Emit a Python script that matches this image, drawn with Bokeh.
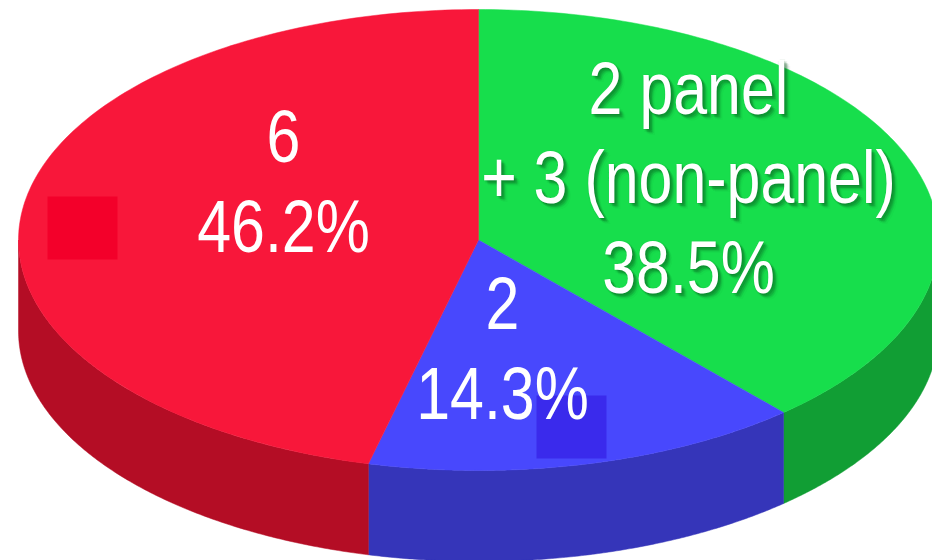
import numpy as np
from bokeh.embed import file_html
from bokeh.io import curdoc
from bokeh.models import ColumnDataSource, CustomJS
from bokeh.plotting import figure
from bokeh.resources import INLINE
from bokeh.core.properties import value

# Members per group, clockwise from twelve o'clock
groups = ["green", "blue", "red"]
counts = [5, 2, 6]
count_labels = [["2 panel", "+ 3 (non-panel)"], ["2"], ["6"]]
share_labels = ["38.5%", "14.3%", "46.2%"]

top_colors = ["#17de4c", "#4848fd", "#f8173a"]
wall_colors = ["#119e34", "#3535b9", "#b40d25"]

# Pie geometry in page pixels
CX, CY, RX, RY, DEPTH = 478, 239.5, 460, 230.5, 91
LINE_HEIGHT = 89.5
FONT = value("Liberation Sans")
SIZE = "75px"
TEXT_SQUEEZE = 0.812

p = figure(width=932, height=560, x_range=(0, 932), y_range=(560, 0),
           output_backend="svg", toolbar_location=None, min_border=0,
           outline_line_color=None, background_fill_color="white")
p.axis.visible = False
p.grid.visible = False


def rim(a0, a1, n=160):
    """Rim points of the top ellipse between two clockwise angles from the top."""
    t = np.linspace(a0, a1, n)
    return CX + RX * np.sin(t), CY - RY * np.cos(t)


edges = 2 * np.pi * np.concatenate([[0], np.cumsum(counts)]) / sum(counts)

# Side walls: only the part of the rim on the front half of the ellipse shows
for a0, a1, col in zip(edges[:-1], edges[1:], wall_colors):
    lo, hi = max(a0, np.pi / 2), min(a1, 3 * np.pi / 2)
    if lo < hi:
        x, y = rim(lo, hi)
        p.patch(np.r_[x, x[::-1]], np.r_[y, y[::-1] + DEPTH],
                fill_color=col, fill_alpha=1.0, line_color=col, line_width=0.5)

# Top face
for a0, a1, col in zip(edges[:-1], edges[1:], top_colors):
    x, y = rim(a0, a1)
    p.patch(np.r_[CX, x], np.r_[CY, y], fill_color=col, fill_alpha=1.0,
            line_color=col, line_width=0.5)

# Small darker patches on the red and blue faces
p.quad(left=[47, 536], right=[117, 606], top=[196, 395], bottom=[259, 458],
       fill_color=["#f3002a", "#3a2aec"], fill_alpha=1.0, line_color=None)

# Label blocks: centre x and the anchor of the last line
anchors = [(688, 266), (502, 392), (283, 225)]
rows = {"x": [], "y": [], "t": [], "shadow": []}
for (ax, base), lines, share, group in zip(anchors, count_labels, share_labels, groups):
    block = lines + [share]
    for i, line in enumerate(block):
        rows["x"].append(ax)
        rows["y"].append(base - (len(block) - 1 - i) * LINE_HEIGHT)
        rows["t"].append(line)
        rows["shadow"].append(group == "green")

# Soft drop shadow behind the green block, built from stacked translucent copies
shadow_idx = [i for i, s in enumerate(rows["shadow"]) if s]
for dx, dy, alpha in [(1, 1, .10), (2, 2, .12), (3, 3, .12), (4, 3, .08), (3, 4, .08),
                      (5, 4, .06), (4, 5, .06), (1, 3, .07), (3, 1, .07), (-1, 1, .05),
                      (1, -1, .05), (6, 6, .04)]:
    p.text(x=[rows["x"][i] + dx for i in shadow_idx],
           y=[rows["y"][i] + dy for i in shadow_idx],
           text=[rows["t"][i] for i in shadow_idx],
           text_font=FONT, text_font_size=SIZE, text_color="#0a5a22", text_alpha=alpha,
           text_align="center", text_baseline="alphabetic")

p.text(x="x", y="y", text="t", source=ColumnDataSource({k: rows[k] for k in ("x", "y", "t")}),
       text_font=FONT, text_font_size=SIZE, text_color="white",
       text_align="center", text_baseline="alphabetic")

# Narrow the label lettering horizontally about each text's own centre
squeeze = CustomJS(args=dict(k=TEXT_SQUEEZE), code="""
function walk(root) {
  root.querySelectorAll('text').forEach((el) => {
    if (el.dataset.narrowed) return;
    const b = el.getBBox();
    if (!b.width) return;
    const c = b.x + b.width / 2;
    const old = el.getAttribute('transform') || '';
    el.setAttribute('transform', `${old} translate(${c},0) scale(${k},1) translate(${-c},0)`);
    el.dataset.narrowed = '1';
  });
  root.querySelectorAll('*').forEach((el) => { if (el.shadowRoot) walk(el.shadowRoot); });
}
let tries = 0;
(function tick() {
  walk(document);
  if (++tries < 40) setTimeout(tick, 50);
})();
""")

doc = curdoc()
doc.add_root(p)
doc.js_on_event("document_ready", squeeze)

open("out.html", "w").write(file_html(p, INLINE))
